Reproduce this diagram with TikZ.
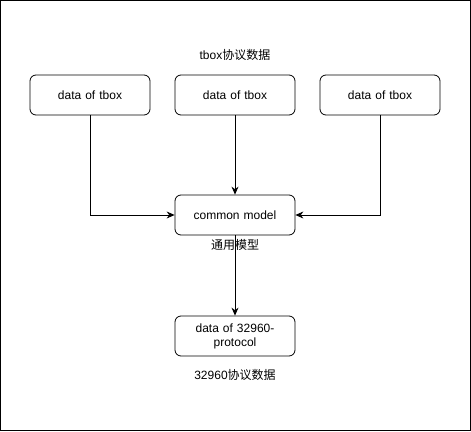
\documentclass[tikz,border=0pt]{standalone}
\usepackage{fontspec}
\setmainfont{Liberation Sans}
\newfontfamily\cjk{Noto Sans CJK SC}
\usetikzlibrary{arrows.meta}

\begin{document}
\begin{tikzpicture}[x=1pt, y=-1pt, font=\fontsize{12}{14}\selectfont,
box/.style = {rectangle, draw, rounded corners=6pt, line width=.8pt, minimum width=120pt, minimum height=40pt, align=center, text width=110pt},
link/.style = {draw, line width=.8pt, -{Stealth[length=8pt, width=7pt]}},]

\useasboundingbox (0,0) rectangle (471,431);
\draw[line width=1pt] (0.5,0.5) rectangle (470.5,430.5);

\node[box] (tboxa) at (90,95) {data of tbox};
\node[box] (tboxb) at (235,95) {data of tbox};
\node[box] (tboxc) at (380,95) {data of tbox};

\node[box] (model) at (235,215) {common model};
\node[box] (gb) at (235,336) {data of 32960-\\protocol};

\node (tboxlabel) at (235,55) {tbox{\cjk 协议数据}};
\node (modellabel) at (235,245) {\cjk 通用模型};
\node (gblabel) at (235,375) {32960{\cjk 协议数据}};

\draw[link] (tboxa.south) |- (model.west);
\draw[link] (tboxb.south) -- (model.north);
\draw[link] (tboxc.south) |- (model.east);
\draw[link] (model.south) -- (gb.north);

\end{tikzpicture}
\end{document}
